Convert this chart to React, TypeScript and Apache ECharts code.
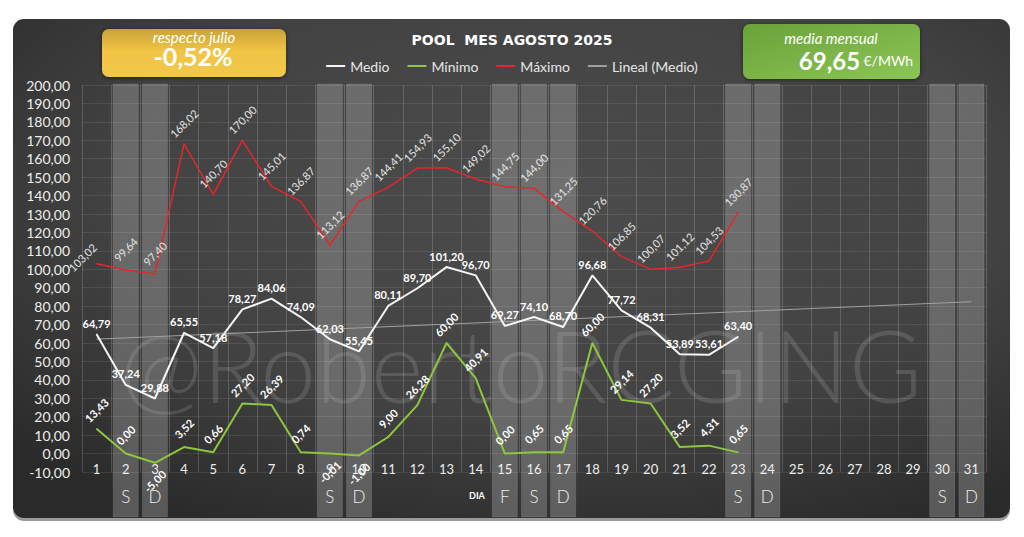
import React, { useEffect, useRef } from 'react';
import * as echarts from 'echarts';

const days = ['1', '2', '3', '4', '5', '6', '7', '8', '9', '10', '11', '12', '13', '14', '15', '16', '17', '18', '19', '20', '21', '22', '23', '24', '25', '26', '27', '28', '29', '30', '31'];
const medio = [64.79, 37.24, 29.88, 65.55, 57.18, 78.27, 84.06, 74.09, 62.03, 55.45, 80.11, 89.70, 101.20, 96.70, 69.27, 74.10, 68.70, 96.68, 77.72, 68.31, 53.89, 53.61, 63.40];
const minimo = [13.43, 0.00, -5.00, 3.52, 0.66, 27.20, 26.39, 0.74, -0.01, -1.00, 9.00, 26.28, 60.00, 40.91, 0.00, 0.65, 0.65, 60.00, 29.14, 27.20, 3.52, 4.31, 0.65];
const maximo = [103.02, 99.64, 97.40, 168.02, 140.70, 170.00, 145.01, 136.87, 113.12, 136.87, 144.41, 154.93, 155.10, 149.02, 144.75, 144.00, 131.25, 120.76, 106.85, 100.07, 101.12, 104.53, 130.87];
const trendStart = 62.1;
const trendEnd = 82.4;
const bandDays = ['2', '3', '9', '10', '15', '16', '17', '23', '24', '30', '31'];
const bandLetters = ['S', 'D', 'S', 'D', 'F', 'S', 'D', 'S', 'D', 'S', 'D'];
const Y_MIN = -10;
const Y_MAX = 200;
const Y_STEP = 10;
const seriesNames = ['Medio', 'Mínimo', 'Máximo', 'Lineal (Medio)'];

const FONT = 'Lato, "DejaVu Sans", sans-serif';
const fmt = (v: number) => v.toFixed(2).replace('.', ',');

export default function App() {
  const ref = useRef<HTMLDivElement>(null);
  useEffect(() => {
    if (!ref.current) return;
    const chart = echarts.init(ref.current, undefined, { renderer: 'svg' });

    const trendData = days.map((_, i) => (i === 0 ? trendStart : i === days.length - 1 ? trendEnd : null));
    const minData = minimo.map((v) =>
      v < 0 ? { value: v, label: { position: 'bottom', distance: 18 } } : v
    );
    const maxData = maximo.map((v, i) => (i === 0 ? { value: v, label: { offset: [-20, 0] } } : v));

    chart.setOption({
      animation: false,
      backgroundColor: '#ffffff',
      textStyle: { fontFamily: FONT },
      graphic: [
        { type: 'rect', z: -101, silent: true, shape: { x: 13, y: 21, width: 997, height: 500, r: 11 }, style: { fill: '#9a9a9a' } },
        {
          type: 'rect', z: -100, silent: true,
          shape: { x: 13, y: 19, width: 997, height: 499, r: 11 },
          style: {
            fill: {
              type: 'radial', x: 0.55, y: 0.35, r: 0.75,
              colorStops: [
                { offset: 0, color: '#4c4c4c' },
                { offset: 0.6, color: '#424242' },
                { offset: 1, color: '#2a2a2a' },
              ],
            },
          },
        },
        {
          type: 'text', z: -50, silent: true,
          style: { text: '@RobertoRCGING', x: 521, y: 364, align: 'center', verticalAlign: 'middle', font: '300 100px Lato, sans-serif', fill: 'rgba(255,255,255,0.13)' },
        },
        {
          type: 'rect', z: 10, shape: { x: 102, y: 29, width: 184, height: 48, r: 7 },
          style: {
            fill: { type: 'linear', x: 0, y: 0, x2: 0, y2: 1, colorStops: [{ offset: 0, color: '#c9a238' }, { offset: 0.45, color: '#f0c444' }, { offset: 1, color: '#f3c84a' }] },
            shadowBlur: 4, shadowColor: 'rgba(0,0,0,0.5)', shadowOffsetY: 1,
          },
        },
        { type: 'text', z: 11, style: { text: 'respecto julio', x: 194, y: 37, align: 'center', verticalAlign: 'middle', font: 'italic 15px Lato, sans-serif', fill: '#ffffff' } },
        { type: 'text', z: 11, style: { text: '-0,52%', x: 193, y: 56, align: 'center', verticalAlign: 'middle', font: 'bold 25px Lato, sans-serif', fill: '#ffffff' } },
        {
          type: 'rect', z: 10, shape: { x: 743, y: 24, width: 177, height: 55, r: 7 },
          style: {
            fill: { type: 'linear', x: 0, y: 0, x2: 1, y2: 1, colorStops: [{ offset: 0, color: '#6aa23a' }, { offset: 1, color: '#8cc556' }] },
            shadowBlur: 4, shadowColor: 'rgba(0,0,0,0.5)', shadowOffsetY: 1,
          },
        },
        { type: 'text', z: 11, style: { text: 'media mensual', x: 831, y: 38, align: 'center', verticalAlign: 'middle', font: 'italic 15px Lato, sans-serif', fill: '#ffffff' } },
        {
          type: 'text', z: 11,
          style: {
            text: '{a|69,65} {b|€/MWh}', x: 856, y: 60, align: 'center', verticalAlign: 'middle',
            rich: {
              a: { fontFamily: 'Lato', fontWeight: 'bold', fontSize: 24, fill: '#ffffff', color: '#ffffff' },
              b: { fontFamily: 'Lato', fontSize: 14, fill: '#ffffff', color: '#ffffff' },
            },
          },
        },
        { type: 'text', z: 11, style: { text: 'DIA', x: 477, y: 495, align: 'center', verticalAlign: 'middle', font: 'bold 9px Lato, sans-serif', fill: '#ffffff' } },
      ],
      title: {
        text: 'POOL  MES AGOSTO 2025',
        left: 'center',
        top: 28,
        textStyle: { color: '#ffffff', fontSize: 14, fontWeight: 'bold', fontFamily: '"DejaVu Sans", sans-serif' },
      },
      legend: {
        data: seriesNames,
        top: 54,
        left: 'center',
        icon: 'rect',
        itemWidth: 19,
        itemHeight: 2,
        itemGap: 18,
        textStyle: { color: '#e6e6e6', fontSize: 14, fontFamily: FONT },
      },
      grid: { left: 82, right: 38, top: 85, bottom: 65 },
      xAxis: {
        type: 'category',
        data: days,
        boundaryGap: true,
        z: 3,
        axisLine: { show: false },
        axisTick: { show: false },
        axisLabel: { color: '#eeeeee', fontSize: 13, margin: -10, fontFamily: FONT },
        splitLine: { show: true, interval: 0, lineStyle: { color: 'rgba(255,255,255,0.17)', width: 1 } },
      },
      yAxis: {
        type: 'value',
        min: Y_MIN,
        max: Y_MAX,
        interval: Y_STEP,
        z: 3,
        axisLine: { show: false },
        axisTick: { show: false },
        axisLabel: { color: '#eeeeee', fontSize: 14, margin: 12, fontFamily: FONT, formatter: (v: number) => fmt(v) },
        splitLine: { show: true, lineStyle: { color: 'rgba(255,255,255,0.09)', width: 1 } },
      },
      series: [
        {
          type: 'custom',
          name: 'bands',
          z: 1,
          silent: true,
          clip: false,
          data: bandDays.map((d) => [d]),
          encode: { x: 0 },
          renderItem: (params: any, api: any) => {
            const idx = api.value(0);
            const top = api.coord([idx, Y_MAX]);
            const bot = api.coord([idx, Y_MIN]);
            const w = api.size([1, 0])[0];
            return {
              type: 'group',
              children: [
                {
                  type: 'rect',
                  shape: { x: top[0] - w / 2 + 2, y: top[1] - 1, width: w - 4, height: bot[1] - top[1] + 46 },
                  style: { fill: 'rgba(185,185,185,0.33)', stroke: 'rgba(255,255,255,0.10)', lineWidth: 1 },
                },
                {
                  type: 'text',
                  style: { text: bandLetters[params.dataIndex], x: top[0], y: bot[1] + 24, fill: '#eeeeee', font: '300 17px Lato, sans-serif', align: 'center', verticalAlign: 'middle' },
                },
              ],
            };
          },
        },
        {
          name: 'Lineal (Medio)',
          type: 'line',
          z: 4,
          data: trendData,
          connectNulls: true,
          symbol: 'none',
          lineStyle: { color: '#a0a0a0', width: 1 },
          itemStyle: { color: '#a0a0a0' },
        },
        {
          name: 'Máximo',
          type: 'line',
          z: 5,
          data: maxData,
          symbol: 'circle',
          symbolSize: 1,
          lineStyle: { color: '#e5262a', width: 1.5 },
          itemStyle: { color: '#e5262a' },
          label: {
            show: true, position: 'top', distance: 20, rotate: 45, align: 'center', verticalAlign: 'middle',
            color: '#e4e4e4', fontSize: 11, fontFamily: FONT,
            formatter: (p: any) => fmt(p.value),
          },
        },
        {
          name: 'Mínimo',
          type: 'line',
          z: 6,
          data: minData,
          symbol: 'circle',
          symbolSize: 1,
          lineStyle: { color: '#8dc63f', width: 2 },
          itemStyle: { color: '#8dc63f' },
          label: {
            show: true, position: 'top', distance: 18, rotate: 45, align: 'center', verticalAlign: 'middle',
            color: '#ffffff', fontSize: 11, fontWeight: 'bold', fontFamily: FONT,
            formatter: (p: any) => fmt(p.value),
          },
        },
        {
          name: 'Medio',
          type: 'line',
          z: 7,
          data: medio,
          symbol: 'circle',
          symbolSize: 1,
          lineStyle: { color: '#f5f5f5', width: 2 },
          itemStyle: { color: '#f5f5f5' },
          label: {
            show: true, position: 'top', distance: 5,
            color: '#ffffff', fontSize: 11, fontWeight: 'bold', fontFamily: FONT,
            formatter: (p: any) => fmt(p.value),
          },
        },
      ],
    });
    return () => chart.dispose();
  }, []);
  return <div ref={ref} style={{ position: 'fixed', left: 0, top: 0, width: 1024, height: 537 }} />;
}
